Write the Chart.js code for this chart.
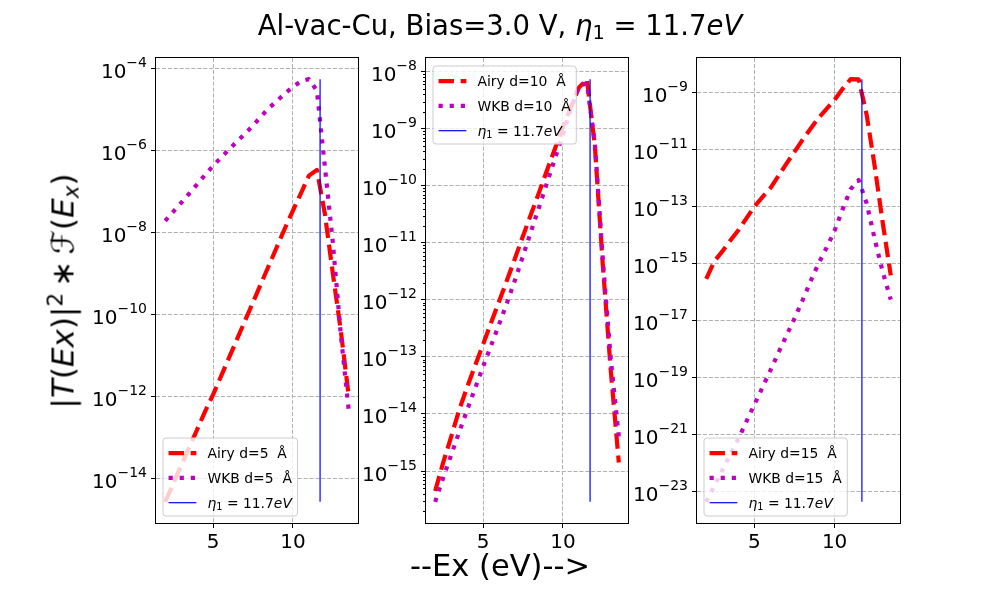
<!DOCTYPE html>
<html>
<head>
<meta charset="utf-8">
<title>Al-vac-Cu, Bias=3.0 V</title>
<script src="https://cdn.jsdelivr.net/npm/chart.js@4.4.1/dist/chart.umd.min.js"></script>
<style>
  html, body { margin: 0; padding: 0; background: #fff; }
  body { position: relative; width: 1000px; height: 600px; overflow: hidden; font-family: "DejaVu Sans", sans-serif; color: #000; }
  canvas { position: absolute; left: 0; top: 0; }
  .lbl { position: absolute; white-space: nowrap; line-height: 1; }
  #titulo { left: 0; width: 1000px; top: 11.7px; text-align: center; font-size: 27.5px; }
  #xlabel { left: 0; width: 1000px; top: 551px; text-align: center; font-size: 30.5px; }
  #ylabel { left: 63px; top: 291px; font-size: 31px; transform: translate(-50%, -50%) rotate(-90deg); }
  .sub { font-size: 70%; position: relative; top: 0.22em; }
  .sup { font-size: 70%; position: relative; top: -0.5em; }
</style>
</head>
<body>
<canvas id="c1" width="1000" height="600"></canvas>
<canvas id="c2" width="1000" height="600"></canvas>
<canvas id="c3" width="1000" height="600"></canvas>

<div class="lbl" id="titulo">Al-vac-Cu, Bias=3.0 V, <i>η</i><span class="sub">1</span> = 11.7<i>eV</i></div>
<div class="lbl" id="ylabel">|<i>T</i>(<i>Ex</i>)|<span class="sup">2</span>&thinsp;∗&thinsp;ℱ(<i>E</i><span class="sub"><i>x</i></span>)</div>
<div class="lbl" id="xlabel">--Ex (eV)--&gt;</div>

<script>
// energia Ex (eV), igual nos três painéis
const ex = [2, 2.5, 3, 3.5, 4, 4.5, 5, 5.5, 6, 6.5, 7, 7.5, 8, 8.5, 9, 9.5, 10, 10.5, 11, 11.5, 12, 12.5, 13, 13.5];

// d = 5 Å
const airy5 = [2.75e-15, 7.59e-15, 2.09e-14, 5.75e-14, 1.58e-13, 4.37e-13, 1.12e-12, 3.16e-12, 8.91e-12, 2.51e-11, 7.08e-11, 2.0e-10,
               5.62e-10, 1.58e-9, 4.47e-9, 1.26e-8, 3.39e-8, 8.91e-8, 2.40e-7, 3.31e-7, 2.82e-8, 1.0e-9, 3.98e-11, 1.0e-12];
const wkb5 = [1.91e-8, 3.16e-8, 5.25e-8, 8.71e-8, 1.48e-7, 2.51e-7, 4.17e-7, 6.61e-7, 1.05e-6, 1.62e-6, 2.51e-6, 3.98e-6,
              6.61e-6, 1.07e-5, 1.58e-5, 2.40e-5, 3.47e-5, 4.79e-5, 5.37e-5, 2.82e-5, 3.98e-7, 5.62e-9, 3.16e-11, 4.47e-13];

// d = 10 Å
const airy10 = [4.47e-16, 1.41e-15, 3.98e-15, 1.17e-14, 2.95e-14, 7.08e-14, 1.66e-13, 3.98e-13, 9.33e-13, 2.24e-12, 5.37e-12, 1.32e-11,
                3.16e-11, 7.59e-11, 1.86e-10, 4.47e-10, 1.07e-9, 2.40e-9, 5.25e-9, 7.41e-9, 5.01e-10, 3.98e-12, 5.62e-14, 1.41e-15];
const wkb10 = [2.88e-16, 7.59e-16, 1.91e-15, 4.79e-15, 1.17e-14, 2.82e-14, 6.76e-14, 1.58e-13, 3.72e-13, 8.91e-13, 2.24e-12, 5.89e-12,
               1.58e-11, 4.17e-11, 1.12e-10, 3.02e-10, 7.94e-10, 2.24e-9, 5.62e-9, 6.31e-9, 5.62e-10, 5.01e-12, 8.91e-14, 3.98e-15];

// d = 15 Å
const airy15 = [2.88e-16, 1.17e-15, 2.63e-15, 6.31e-15, 1.45e-14, 3.80e-14, 9.77e-14, 2.09e-13, 4.37e-13, 1.17e-12, 3.16e-12, 8.13e-12,
                2.14e-11, 5.25e-11, 1.26e-10, 2.63e-10, 5.37e-10, 1.32e-9, 2.88e-9, 2.82e-9, 1.58e-10, 2.51e-12, 2.63e-14, 3.80e-16];
const wkb15 = [4.37e-24, 1.58e-23, 5.62e-23, 2.0e-22, 7.08e-22, 2.82e-21, 1.12e-20, 4.47e-20, 1.78e-19, 7.41e-19, 2.95e-18, 1.17e-17,
               5.01e-17, 2.34e-16, 1.0e-15, 3.55e-15, 1.41e-14, 7.94e-14, 3.98e-13, 8.32e-13, 1.26e-13, 7.08e-15, 5.01e-16, 5.37e-17];

const eta1 = 11.7;
const xTicks = [5, 10];
const yExp5 = [-4, -6, -8, -10, -12, -14];
const yExp10 = [-8, -9, -10, -11, -12, -13, -14, -15];
const yExp15 = [-9, -11, -13, -15, -17, -19, -21, -23];

const FONT = '"DejaVu Sans", sans-serif';

// margem de 5% como no matplotlib (em log para y)
function logLimits(values) {
    const lo = Math.log10(Math.min(...values));
    const hi = Math.log10(Math.max(...values));
    const m = (hi - lo) * 0.05;
    return [Math.pow(10, lo - m), Math.pow(10, hi + m)];
}
const xPad = (ex[ex.length - 1] - ex[0]) * 0.05;

// moldura preta, ticks menores e rótulos 10^n do eixo y
const framePlugin = {
    id: 'frame',
    afterDatasetsDraw(chart, args, opts) {
        const { ctx, chartArea: a } = chart;
        const ys = chart.scales.y;
        ctx.save();
        ctx.strokeStyle = '#000';
        ctx.lineWidth = 1;
        ctx.setLineDash([]);
        if (opts.minor) {
            const e0 = Math.floor(Math.log10(ys.min)), e1 = Math.ceil(Math.log10(ys.max));
            for (let e = e0; e <= e1; e++) {
                for (let m = 2; m <= 9; m++) {
                    const v = m * Math.pow(10, e);
                    if (v < ys.min || v > ys.max) continue;
                    const py = Math.round(ys.getPixelForValue(v)) + 0.5;
                    ctx.beginPath();
                    ctx.moveTo(a.left - 3, py);
                    ctx.lineTo(a.left, py);
                    ctx.stroke();
                }
            }
        }
        ctx.strokeRect(Math.round(a.left) - 0.5, Math.round(a.top) - 0.5,
                       Math.round(a.right - a.left) + 1, Math.round(a.bottom - a.top) + 1);

        // rótulos com expoente como no mathtext
        ctx.fillStyle = '#000';
        ctx.textBaseline = 'alphabetic';
        ys.ticks.forEach(t => {
            const py = ys.getPixelForValue(t.value);
            const expo = String(Math.round(Math.log10(t.value))).replace('-', '\u2212');
            ctx.font = `20px ${FONT}`;
            const wBase = ctx.measureText('10').width;
            ctx.font = `14px ${FONT}`;
            const wExp = ctx.measureText(expo).width;
            const x0 = a.left - 9 - wBase - wExp;
            const base = py + 9.5;
            ctx.font = `20px ${FONT}`;
            ctx.fillText('10', x0, base);
            ctx.font = `14px ${FONT}`;
            ctx.fillText(expo, x0 + wBase, base - 11);
        });
        ctx.restore();
    }
};

// legenda estilo matplotlib dentro do gráfico
function labelRuns(text, fs) {
    if (text.startsWith('η')) {
        return [
            ['η', `italic ${fs}px ${FONT}`, 0],
            ['1', `${fs * 0.7}px ${FONT}`, 2.5],
            [' = 11.7', `${fs}px ${FONT}`, 0],
            ['eV', `italic ${fs}px ${FONT}`, 0]
        ];
    }
    return [[text, `${fs}px ${FONT}`, 0]];
}
function runsWidth(ctx, runs) {
    return runs.reduce((w, r) => { ctx.font = r[1]; return w + ctx.measureText(r[0]).width; }, 0);
}

const legendPlugin = {
    id: 'boxLegend',
    afterDraw(chart, args, opts) {
        const { ctx, chartArea: a } = chart;
        const fs = 13.9;
        const sets = chart.data.datasets;
        ctx.save();
        const textW = Math.max(...sets.map(ds => runsWidth(ctx, labelRuns(ds.label, fs))));
        const w = fs * 0.4 + fs * 2 + fs * 0.8 + textW + fs * 0.4;
        const h = 78;
        const x = a.left + 7;
        const y = opts.where === 'top' ? a.top + 8 : a.bottom - 7 - h;
        const r = 3;

        ctx.beginPath();
        ctx.moveTo(x + r, y);
        ctx.arcTo(x + w, y, x + w, y + h, r);
        ctx.arcTo(x + w, y + h, x, y + h, r);
        ctx.arcTo(x, y + h, x, y, r);
        ctx.arcTo(x, y, x + w, y, r);
        ctx.closePath();
        ctx.fillStyle = 'rgba(255,255,255,0.8)';
        ctx.fill();
        ctx.strokeStyle = '#cccccc';
        ctx.lineWidth = 1;
        ctx.stroke();

        sets.forEach((ds, i) => {
            const cy = y + 15.1 + i * 24.8;
            const hx = x + fs * 0.4;
            ctx.beginPath();
            ctx.setLineDash(ds.borderDash || []);
            ctx.lineCap = 'butt';
            ctx.lineWidth = ds.borderWidth;
            ctx.strokeStyle = ds.borderColor;
            ctx.moveTo(hx, cy);
            ctx.lineTo(hx + fs * 2, cy);
            ctx.stroke();
            ctx.setLineDash([]);

            let tx = hx + fs * 2 + fs * 0.8;
            ctx.fillStyle = '#000';
            ctx.textBaseline = 'alphabetic';
            labelRuns(ds.label, fs).forEach(run => {
                ctx.font = run[1];
                ctx.fillText(run[0], tx, cy + 5 + run[2]);
                tx += ctx.measureText(run[0]).width;
            });
        });
        ctx.restore();
    }
};

const paineis = [
    { id: 'c1', d: 5, airy: airy5, wkb: wkb5, exps: yExp5, left: 156, right: 358, legenda: 'bottom', minor: false },
    { id: 'c2', d: 10, airy: airy10, wkb: wkb10, exps: yExp10, left: 426, right: 628, legenda: 'top', minor: true },
    { id: 'c3', d: 15, airy: airy15, wkb: wkb15, exps: yExp15, left: 697, right: 900, legenda: 'bottom', minor: false }
];

const TOP = 58, BOTTOM = 523, YAXIS_W = 80, XAXIS_H = 50;

paineis.forEach(p => {
    const all = p.airy.concat(p.wkb);
    const [ymin, ymax] = logLimits(all);
    const pts = arr => ex.map((x, i) => ({ x, y: arr[i] }));

    new Chart(document.getElementById(p.id), {
        type: 'line',
        data: {
            datasets: [
                {
                    label: `Airy d=${p.d}  Å`, data: pts(p.airy),
                    borderColor: '#ff0000', borderWidth: 4.2, borderDash: [15.4, 6.7],
                    borderCapStyle: 'butt', borderJoinStyle: 'round', pointRadius: 0, tension: 0, order: 3
                },
                {
                    label: `WKB d=${p.d}  Å`, data: pts(p.wkb),
                    borderColor: '#bf00bf', borderWidth: 4.2, borderDash: [4.2, 6.9],
                    borderCapStyle: 'butt', borderJoinStyle: 'round', pointRadius: 0, tension: 0, order: 2
                },
                {
                    label: 'η₁ = 11.7eV',
                    data: [{ x: eta1, y: Math.min(...all) }, { x: eta1, y: Math.max(...all) }],
                    borderColor: '#0000ff', borderWidth: 1.2, pointRadius: 0, order: 1
                }
            ]
        },
        options: {
            responsive: false,
            devicePixelRatio: 1,
            animation: false,
            events: [],
            layout: { padding: { left: p.left - YAXIS_W, right: 1000 - p.right, top: TOP, bottom: 600 - BOTTOM - XAXIS_H } },
            plugins: {
                legend: { display: false },
                tooltip: { enabled: false },
                frame: { minor: p.minor },
                boxLegend: { where: p.legenda }
            },
            scales: {
                x: {
                    type: 'linear',
                    min: ex[0] - xPad,
                    max: ex[ex.length - 1] + xPad,
                    bounds: 'data',
                    afterBuildTicks: s => { s.ticks = xTicks.map(v => ({ value: v })); },
                    afterFit: s => { s.height = XAXIS_H; },
                    border: { display: false, dash: [4.1, 1.8] },
                    grid: { color: '#b0b0b0', lineWidth: 1, tickColor: '#000', tickLength: 5, tickWidth: 1, tickBorderDash: [] },
                    ticks: { color: '#000', font: { family: FONT, size: 20 }, padding: 3, maxRotation: 0, autoSkip: false }
                },
                y: {
                    type: 'logarithmic',
                    min: ymin,
                    max: ymax,
                    bounds: 'data',
                    afterBuildTicks: s => { s.ticks = p.exps.map(e => ({ value: Math.pow(10, e), major: true })); },
                    afterFit: s => { s.width = YAXIS_W; },
                    border: { display: false, dash: [4.1, 1.8] },
                    grid: { color: '#b0b0b0', lineWidth: 1, tickColor: '#000', tickLength: 5, tickWidth: 1, tickBorderDash: [] },
                    ticks: { display: false, autoSkip: false }
                }
            }
        },
        plugins: [framePlugin, legendPlugin]
    });
});
</script>
</body>
</html>
